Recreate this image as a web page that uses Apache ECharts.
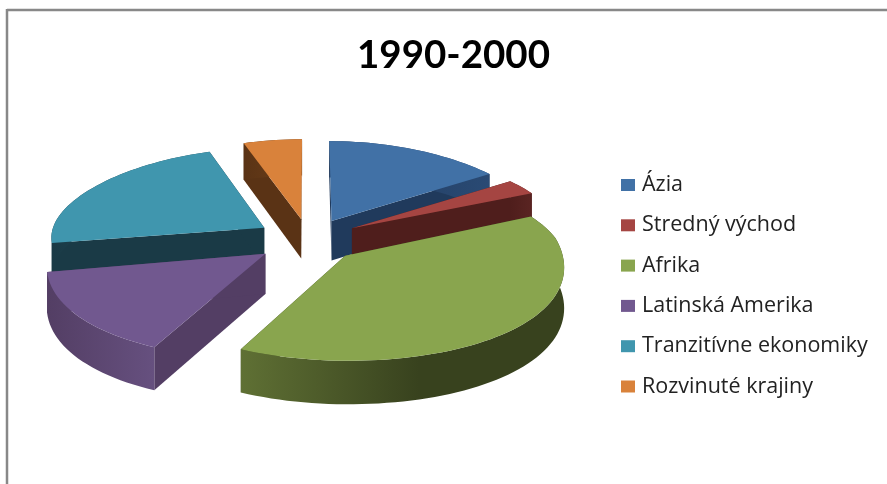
<!DOCTYPE html>
<html>
<head>
<meta charset="utf-8">
<style>
html,body{margin:0;padding:0;background:#fff;overflow:hidden}
#c{width:887px;height:484px;filter:blur(0.5px)}
</style>
<script src="https://cdn.jsdelivr.net/npm/echarts@6/dist/echarts.min.js"></script>
</head>
<body>
<div id="c"></div>
<script>
const titleText = '1990-2000';
const categories = ['Ázia','Stredný východ','Afrika','Latinská Amerika','Tranzitívne ekonomiky','Rozvinuté krajiny'];
const values = [15, 2.8, 39.7, 14.7, 22.8, 5];
const topColors = ['#4171A6','#A54542','#89A54E','#71588F','#4096AE','#D9823B'];
const cutColors = ['#203A5C','#4F1E1C','#38421E','#533E64','#1A3A46','#5A3315'];
const wallLeft  = ['#2A4A74','#5A2422','#5F7034','#66507F','#26525F','#6E4019'];
const wallRight = ['#203A5C','#4F1E1C','#38421E','#533E64','#1A3A46','#5A3315'];
const explodes = [0.237,0.237,0.237,0.25,0.247,0.237];
const paintRank = [3,4,6,5,1,0];

const total = values.reduce(function(a,b){return a+b;},0);
const view = {cx:309, cy:238, rx:214, ryBack:80, ryFront:105, xPersp:0.1, depth:40, depthPersp:3};

function project(u,v){
  return [view.cx + view.rx*u*(1+view.xPersp*v), view.cy + v*(v<0?view.ryBack:view.ryFront)];
}
function sliceRange(i){
  let s=0; for(let k=0;k<i;k++) s+=values[k];
  return [s/total*Math.PI*2,(s+values[i])/total*Math.PI*2];
}
function discPoint(theta,mid,r,e){
  return [r*Math.sin(theta)+e*Math.sin(mid), -r*Math.cos(theta)-e*Math.cos(mid)];
}
function down(p,v){return [p[0],p[1]+view.depth+view.depthPersp*v];}

function renderSlice(i){
  return function(){
    const rg=sliceRange(i), a=rg[0], b=rg[1], mid=(a+b)/2, e=explodes[i];
    const apexD=discPoint(0,mid,0,e), apex=project(apexD[0],apexD[1]);
    const rim=[], rimDown=[];
    const n=Math.max(6,Math.round((b-a)/(Math.PI*2)*180));
    for(let k=0;k<=n;k++){
      const t=a+(b-a)*k/n, d=discPoint(t,mid,1,e), p=project(d[0],d[1]);
      rim.push(p); rimDown.push(down(p,d[1]));
    }
    const apexDown=down(apex,apexD[1]);
    const wall=rim.concat(rimDown.slice().reverse());
    const grad=new echarts.graphic.LinearGradient(i===2?0:1,0,i===2?0.55:0,0,[
      {offset:0,color:wallLeft[i]},{offset:1,color:wallRight[i]}]);
    return {type:'group',children:[
      {type:'polygon',shape:{points:[apex,rim[0],rimDown[0],apexDown]},style:{fill:cutColors[i]}},
      {type:'polygon',shape:{points:[apex,rim[n],rimDown[n],apexDown]},style:{fill:cutColors[i]}},
      {type:'polygon',shape:{points:wall},style:{fill:grad}},
      {type:'polygon',shape:{points:[apex].concat(rim)},style:{fill:topColors[i]}}
    ]};
  };
}

const chart=echarts.init(document.getElementById('c'),null,{renderer:'canvas'});
chart.setOption({
  animation:false,
  backgroundColor:'#fff',
  title:{text:titleText,left:352,top:31,textStyle:{fontFamily:'Lato',fontWeight:'bold',fontSize:38.5,color:'#000'}},
  legend:{
    orient:'vertical',left:616,top:169,itemWidth:14,itemHeight:12,itemGap:18.3,icon:'rect',
    selectedMode:false,data:categories,
    textStyle:{fontFamily:'Open Sans',fontSize:21.5,color:'#222',padding:[0,0,0,2]}
  },
  graphic:[
    {type:'line',shape:{x1:7,y1:10,x2:887,y2:10},style:{stroke:'#888',lineWidth:2.5}},
    {type:'line',shape:{x1:7,y1:9,x2:7,y2:484},style:{stroke:'#888',lineWidth:2.5}}
  ],
  series:categories.map(function(name,i){
    return {type:'custom',name:name,coordinateSystem:'none',silent:true,z:2+paintRank[i],
      itemStyle:{color:topColors[i]},data:[values[i]],renderItem:renderSlice(i)};
  })
});
</script>
</body>
</html>
